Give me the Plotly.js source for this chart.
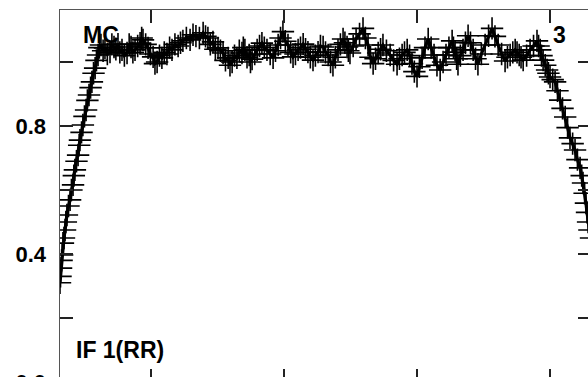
<!DOCTYPE html>
<html>
<head>
<meta charset="utf-8">
<script src="https://cdn.plot.ly/plotly-3.0.1.min.js"></script>
<style>
html, body { margin: 0; padding: 0; overflow: hidden; background: #fff; }
#chart { width: 600px; height: 420px; }
</style>
</head>
<body>
<div id="chart"></div>
<script>
// Channel numbers (x) and normalised amplitude (y)
const channel = [
  15.8, 16.0, 16.2, 16.4, 16.6, 16.9, 17.3, 17.7, 18.0, 18.4,
  19.0, 19.6, 20.1, 20.7, 21.0, 21.4, 22.0, 22.6, 23.0, 23.3,
  23.9, 24.4, 25.0, 25.6, 26.1, 26.7, 27.3, 27.8, 28.4, 29.0,
  29.5, 30.1, 30.6, 31.2, 32.0, 32.7, 33.6, 34.6, 35.3, 36.1,
  36.8, 37.6, 38.3, 39.1, 40.0, 41.0, 41.8, 42.5, 43.2, 44.0,
  45.0, 45.9, 46.5, 47.0, 48.0, 48.9, 49.8, 50.8, 51.5, 52.3,
  53.2, 54.1, 55.0, 56.0, 57.0, 57.9, 59.0, 60.2, 61.1, 62.0,
  63.3, 64.7, 65.8, 66.9, 68.2, 69.6, 70.5, 71.4, 72.3, 73.3,
  74.2, 75.2, 76.1, 77.1, 78.0, 79.0, 79.7, 80.5, 81.4, 82.3,
  83.2, 84.2, 84.7, 85.3, 86.1, 86.9, 87.4, 88.0, 89.0, 89.9,
  90.8, 91.7, 92.6, 93.6, 94.8, 95.9, 96.8, 97.8, 98.7, 99.6,
  100.5, 101.5, 102.5, 103.4, 104.3, 105.3, 106.2, 107.2, 108.1, 109.0,
  109.9, 110.9, 111.8, 112.8, 113.7, 114.7, 115.6, 116.6, 117.5, 118.4,
  119.3, 120.3, 121.2, 122.2, 122.9, 123.7, 124.2, 124.8, 126.0, 127.1,
  128.4, 129.7, 130.6, 131.6, 132.5, 133.5, 134.4, 135.4, 136.3, 137.2,
  138.5, 139.9, 141.2, 142.5, 143.4, 144.4, 145.3, 146.3, 147.2, 148.1,
  149.0, 150.0, 150.9, 151.9, 153.0, 154.2, 155.3, 156.4, 157.5, 158.7,
  159.8, 160.9, 162.0, 163.2, 163.7, 164.3, 164.9, 165.4, 166.3, 167.3,
  168.2, 169.2, 170.1, 171.1, 172.0, 172.9, 174.2, 175.6, 176.9, 178.2,
  179.3, 180.5, 181.8, 183.1, 184.0, 185.0, 186.0, 186.9, 187.6, 188.4,
  189.1, 189.9, 191.2, 192.5, 193.8, 195.1, 195.7, 196.3, 196.8, 197.4,
  198.2, 198.9, 199.4, 200.0, 201.0, 201.9, 202.8, 203.8, 204.7, 205.7,
  206.6, 207.5, 208.5, 209.4, 210.3, 211.3, 211.9, 212.4, 213.0, 213.5,
  213.9, 214.3, 214.8, 215.4
];
const amplitude = [
  0.31, 0.33, 0.356, 0.38, 0.397, 0.434, 0.45, 0.475, 0.50, 0.522,
  0.55, 0.569, 0.60, 0.616, 0.645, 0.663, 0.69, 0.709, 0.74, 0.756,
  0.78, 0.803, 0.83, 0.85, 0.88, 0.897, 0.92, 0.938, 0.965, 0.981,
  1.005, 1.022, 1.045, 1.053, 1.035, 1.044, 1.025, 1.031, 1.055, 1.047,
  1.040, 1.056, 1.030, 1.038, 1.020, 1.028, 1.055, 1.047, 1.030, 1.038,
  1.050, 1.059, 1.075, 1.069, 1.055, 1.044, 1.025, 1.016, 0.995, 1.0,
  1.020, 1.013, 1.030, 1.025, 1.045, 1.038, 1.055, 1.05, 1.060, 1.066,
  1.075, 1.069, 1.085, 1.081, 1.075, 1.091, 1.080, 1.075, 1.055, 1.063,
  1.040, 1.044, 1.035, 1.028, 1.005, 1.013, 0.990, 1.0, 1.020, 1.013,
  1.035, 1.028, 1.045, 1.038, 1.015, 1.022, 1.000, 1.009, 1.025, 1.038,
  1.050, 1.059, 1.045, 1.038, 1.025, 1.013, 1.035, 1.053, 1.075, 1.095,
  1.065, 1.053, 1.030, 1.016, 1.025, 1.038, 1.045, 1.056, 1.040, 1.031,
  1.015, 1.006, 1.020, 1.031, 1.050, 1.047, 1.030, 1.022, 1.000, 0.990,
  1.015, 1.038, 1.055, 1.072, 1.060, 1.047, 1.035, 1.028, 1.050, 1.072,
  1.088, 1.105, 1.075, 1.053, 1.015, 0.995, 1.010, 1.028, 1.040, 1.053,
  1.035, 1.022, 1.005, 0.993, 1.010, 1.022, 1.030, 1.038, 1.020, 0.995,
  0.970, 0.955, 0.985, 1.013, 1.045, 1.072, 1.045, 1.022, 0.990, 0.975,
  1.000, 1.022, 1.045, 1.066, 1.045, 1.031, 1.010, 0.993, 1.020, 1.038,
  1.060, 1.082, 1.060, 1.038, 1.010, 0.993, 1.025, 1.053, 1.082, 1.105,
  1.080, 1.053, 1.025, 1.003, 1.015, 1.022, 1.030, 1.038, 1.030, 1.022,
  1.015, 1.006, 1.020, 1.038, 1.050, 1.066, 1.050, 1.038, 1.020, 1.006,
  0.990, 0.975, 0.965, 0.953, 0.945, 0.938, 0.910, 0.881, 0.855, 0.828,
  0.795, 0.763, 0.745, 0.725, 0.695, 0.669, 0.645, 0.622, 0.590, 0.559,
  0.530, 0.5, 0.475, 0.45
];
const yTickVals = [0, 0.2, 0.4, 0.6, 0.8, 1.0];
const yTickText = ['0.0', '', '0.4', '', '0.8', ''];
const xTickVals = [50, 100, 150, 200];

const trace = {
  x: channel,
  y: amplitude,
  type: 'scatter',
  mode: 'lines+markers',
  line: { color: '#000', width: 3.2 },
  marker: { symbol: 'cross-thin-open', size: 16, line: { color: '#111', width: 1.6 } },
  cliponaxis: true,
  showlegend: false
};

const font = 'Liberation Sans, Arial, sans-serif';
const layout = {
  width: 600,
  height: 420,
  margin: { l: 60, r: 9, t: 10, b: 38 },
  paper_bgcolor: '#fff',
  plot_bgcolor: '#fff',
  showlegend: false,
  xaxis: {
    range: [15.8, 215.4],
    tickvals: xTickVals,
    ticktext: ['', '', '', ''],
    ticks: 'inside', ticklen: 13, tickwidth: 1.2, tickcolor: '#222',
    showline: true, linecolor: '#555', linewidth: 1.5, mirror: 'ticks',
    showgrid: false, zeroline: false
  },
  yaxis: {
    range: [0, 1.1625],
    tickvals: yTickVals,
    ticktext: yTickText,
    ticks: 'inside', ticklen: 13, tickwidth: 1.2, tickcolor: '#222',
    showline: true, linecolor: '#555', linewidth: 1.5, mirror: 'ticks',
    showgrid: false, zeroline: false,
    ticklabelstandoff: 8,
    tickfont: { family: font, size: 22, color: '#000', weight: 'bold' }
  },
  annotations: [
    { text: '<b>MC</b>', xref: 'paper', yref: 'paper', x: 0.040, y: 0.933,
      xanchor: 'left', yanchor: 'middle', showarrow: false,
      font: { family: font, size: 23, color: '#000' } },
    { text: '<b>3</b>', xref: 'paper', yref: 'paper', x: 0.925, y: 0.933,
      xanchor: 'left', yanchor: 'middle', showarrow: false,
      font: { family: font, size: 23, color: '#000' } },
    { text: '<b>IF 1(RR)</b>', xref: 'paper', yref: 'paper', x: 0.026, y: 0.086,
      xanchor: 'left', yanchor: 'middle', showarrow: false,
      font: { family: font, size: 23, color: '#000' } }
  ]
};

Plotly.newPlot('chart', [trace], layout, { staticPlot: true, displayModeBar: false });
</script>
</body>
</html>
